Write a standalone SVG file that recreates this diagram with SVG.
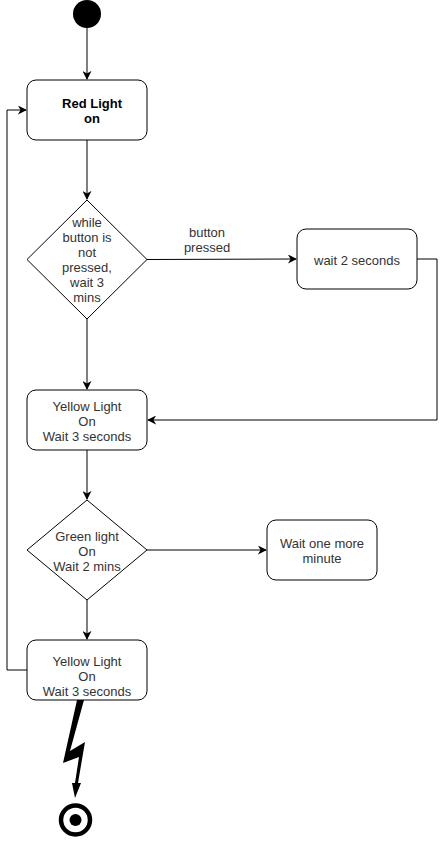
<svg xmlns="http://www.w3.org/2000/svg" width="446" height="841" viewBox="0 0 446 841">
<defs>
<style>
.n{fill:#fff;stroke:#000;stroke-width:1}
.t{font-family:"Liberation Sans",Arial,sans-serif;font-size:13px;fill:#333;text-anchor:middle}
.b{font-weight:bold;fill:#000}
.e{fill:none;stroke:#000;stroke-width:1}
</style>
<marker id="a" viewBox="0 0 10 10" refX="9" refY="5" markerWidth="9" markerHeight="9" markerUnits="userSpaceOnUse" orient="auto">
<path d="M0,0 L10,5 L0,10 L3,5 Z" fill="#000"/>
</marker>
</defs>
<rect width="446" height="841" fill="#fff"/>
<g id="connectors">
<path class="e" d="M87,28 L87,79" marker-end="url(#a)"/>
<path class="e" d="M87,140 L87,199" marker-end="url(#a)"/>
<path class="e" d="M147,259.5 L296,259" marker-end="url(#a)"/>
<path class="e" d="M417,259 L437,259 L437,420 L148,420" marker-end="url(#a)"/>
<path class="e" d="M87,319 L87,389" marker-end="url(#a)"/>
<path class="e" d="M87,450 L87,499" marker-end="url(#a)"/>
<path class="e" d="M147,550 L266,550" marker-end="url(#a)"/>
<path class="e" d="M87,600 L87,639" marker-end="url(#a)"/>
<path class="e" d="M27,670 L7,670 L7,110 L26,110" marker-end="url(#a)"/>
<polygon points="77,700 84,700 70,751 85,742 78,783 81,783 75,798 72,783 75,783 79,757 63,763" fill="#000"/>
<text class="t" x="207" y="237">button</text>
<text class="t" x="207" y="252">pressed</text>
</g>
<g id="start"><circle cx="87" cy="14" r="14" fill="#000"/></g>
<g id="red">
<rect class="n" x="27" y="80" width="120" height="60" rx="9"/>
<text class="t b" x="92" y="108">Red Light</text>
<text class="t b" x="92" y="123">on</text>
</g>
<g id="decision1">
<polygon class="n" points="87,200 147,259.5 87,319 27,259.5"/>
<text class="t" x="87" y="227">while</text>
<text class="t" x="87" y="242">button is</text>
<text class="t" x="87" y="257">not</text>
<text class="t" x="87" y="272">pressed,</text>
<text class="t" x="87" y="287">wait 3</text>
<text class="t" x="87" y="302">mins</text>
</g>
<g id="wait2">
<rect class="n" x="297" y="229" width="120" height="60" rx="9"/>
<text class="t" x="357" y="265">wait 2 seconds</text>
</g>
<g id="yellow1">
<rect class="n" x="27" y="390" width="120" height="60" rx="9"/>
<text class="t" x="87" y="411">Yellow Light</text>
<text class="t" x="87" y="426">On</text>
<text class="t" x="87" y="441">Wait 3 seconds</text>
</g>
<g id="decision2">
<polygon class="n" points="87,500 147,550 87,600 27,550"/>
<text class="t" x="87" y="541">Green light</text>
<text class="t" x="87" y="556">On</text>
<text class="t" x="87" y="571">Wait 2 mins</text>
</g>
<g id="waitmin">
<rect class="n" x="267" y="520" width="110" height="60" rx="9"/>
<text class="t" x="322" y="548">Wait one more</text>
<text class="t" x="322" y="563">minute</text>
</g>
<g id="yellow2">
<rect class="n" x="27" y="640" width="120" height="60" rx="9"/>
<text class="t" x="87" y="666">Yellow Light</text>
<text class="t" x="87" y="681">On</text>
<text class="t" x="87" y="696">Wait 3 seconds</text>
</g>
<g id="end">
<circle cx="75.5" cy="820" r="14.5" fill="#fff" stroke="#000" stroke-width="4.5"/>
<circle cx="75.5" cy="820" r="6" fill="#000"/>
</g>
</svg>
